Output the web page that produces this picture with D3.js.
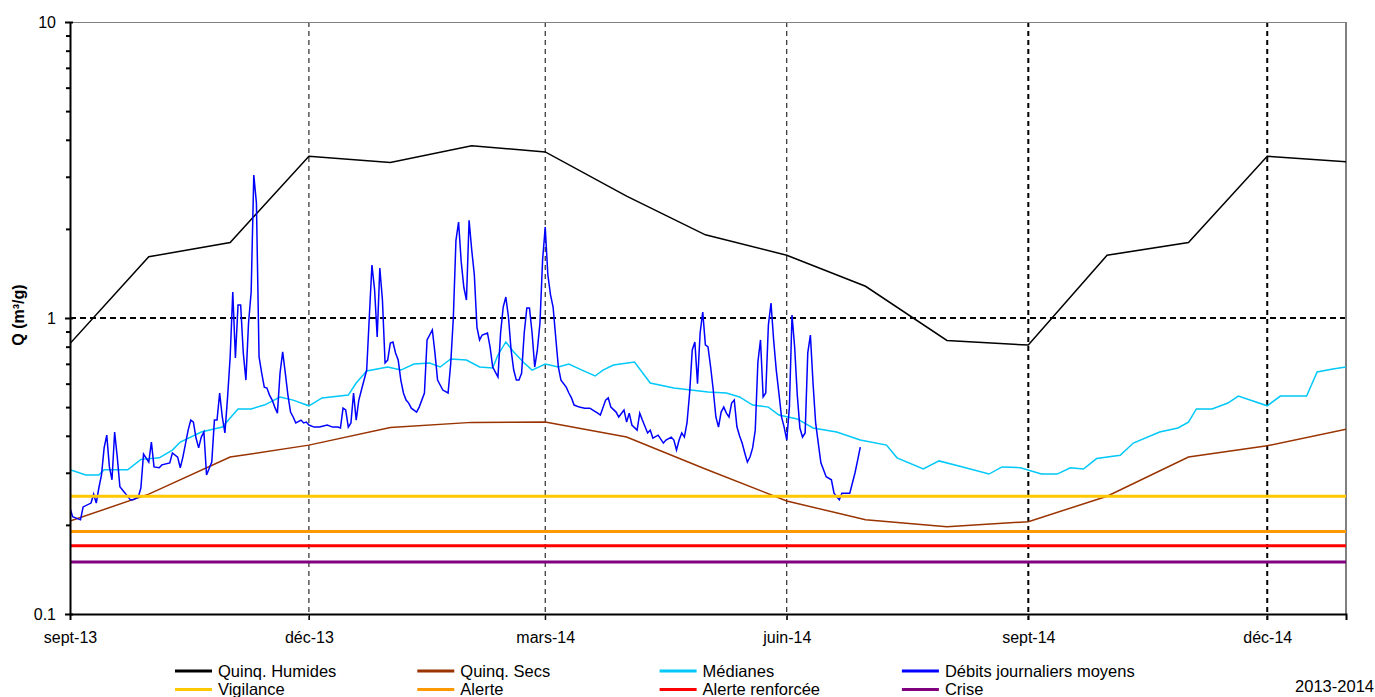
<!DOCTYPE html>
<html>
<head>
<meta charset="utf-8">
<script src="https://cdn.jsdelivr.net/npm/d3@7"></script>
<style>
  body { margin: 0; background: #fff; }
  svg { display: block; font-family: "Liberation Sans", Arial, sans-serif; }
</style>
</head>
<body>
<svg id="chart"></svg>
<script>
// ---- data ----
const startDate = new Date(Date.UTC(2013, 8, 1));

// monthly reference curves (first day of each month, sept-13 -> janv-15)
const months = ['2013-09-01', '2013-10-01', '2013-11-01', '2013-12-01', '2014-01-01', '2014-02-01',
    '2014-03-01', '2014-04-01', '2014-05-01', '2014-06-01', '2014-07-01', '2014-08-01',
    '2014-09-01', '2014-10-01', '2014-11-01', '2014-12-01', '2015-01-01'];
const quinqHumides = [0.82, 1.61, 1.80, 3.52, 3.35, 3.82, 3.64, 2.58, 1.91, 1.63, 1.28, 0.84,
    0.81, 1.63, 1.80, 3.52, 3.37];
const quinqSecs = [0.206, 0.254, 0.339, 0.372, 0.427, 0.444, 0.445, 0.396, 0.309, 0.241, 0.208, 0.197,
    0.205, 0.250, 0.339, 0.370, 0.423];

// medians (day offset from 1 sept 2013)
const medDays = [0, 6, 11, 13, 22, 27, 34, 39, 42, 50, 58, 64, 69, 74, 80, 85, 91, 96, 106, 109,
    113, 121, 126, 131, 137, 141, 145, 151, 156, 161, 163, 166, 169, 173, 176, 181, 186, 190, 195, 200,
    203, 207, 215, 221, 230, 243, 250, 255, 260, 266, 270, 277, 283, 292, 301, 311, 315, 325, 331, 340,
    350, 355, 362, 370, 376, 381, 386, 391, 400, 405, 415, 422, 426, 429, 435, 441, 445, 456, 461, 471,
    475, 481, 486];
const medianes = [0.307, 0.295, 0.295, 0.307, 0.307, 0.333, 0.337, 0.358, 0.381, 0.412, 0.428, 0.493, 0.493, 0.508, 0.541, 0.528, 0.505, 0.537, 0.549, 0.603,
    0.662, 0.683, 0.667, 0.699, 0.705, 0.683, 0.727, 0.721, 0.683, 0.678, 0.750, 0.830, 0.768, 0.705, 0.667, 0.699, 0.683, 0.699, 0.667, 0.637,
    0.667, 0.694, 0.710, 0.603, 0.580, 0.562, 0.558, 0.541, 0.508, 0.500, 0.470, 0.456, 0.425, 0.412, 0.387, 0.372, 0.337, 0.309, 0.329, 0.314,
    0.297, 0.314, 0.312, 0.297, 0.297, 0.312, 0.309, 0.335, 0.344, 0.378, 0.412, 0.425, 0.445, 0.493, 0.493, 0.516, 0.545, 0.505, 0.545, 0.545,
    0.657, 0.672, 0.683];

// daily mean flows [day offset, m3/s]
const debits = [
    [0,.228],[1,.213],[4,.208],[5,.230],[8,.237],[9,.254],[10,.237],[11,.267],[12,.295],[13,.364],
    [14,.402],[15,.314],[16,.284],[17,.412],[18,.339],[19,.269],[21,.256],[23,.243],[24,.243],[26,.248],
    [27,.267],[28,.347],[30,.326],[31,.381],[32,.314],[34,.312],[35,.319],[38,.324],[39,.350],[41,.339],
    [42,.312],[43,.339],[45,.418],[46,.452],[47,.445],[48,.393],[49,.364],[50,.396],[51,.412],[52,.295],
    [54,.326],[55,.452],[56,.452],[57,.558],[58,.463],[59,.409],[60,.537],[61,.738],[62,1.224],[63,.733],
    [64,1.106],[65,1.106],[66,.762],[67,.617],[68,.962],[69,1.224],[70,3.04],[71,2.45],[72,.74],[73,.652],
    [74,.584],[75,.58],[76,.549],[77,.528],[78,.500],[79,.477],[80,.652],[81,.768],[82,.652],[83,.549],
    [84,.481],[85,.463],[86,.442],[88,.452],[89,.442],[90,.445],[91,.435],[93,.428],[95,.428],[98,.435],
    [100,.428],[102,.428],[103,.425],[104,.496],[105,.489],[106,.428],[107,.442],[108,.558],[109,.452],[110,.528],
    [111,.571],[113,.667],[114,1.008],[115,1.51],[116,1.25],[117,.863],[118,1.475],[119,1.15],[120,.705],[121,.721],
    [122,.823],[123,.830],[124,.762],[125,.721],[126,.617],[127,.558],[128,.528],[129,.516],[130,.496],[132,.481],
    [133,.500],[135,.558],[136,.843],[138,.911],[139,.762],[140,.617],[142,.571],[144,.558],[145,.70],[146,1.0],
    [147,1.83],[148,2.11],[149,1.55],[150,1.27],[151,1.15],[152,2.14],[153,1.70],[154,1.40],[155,.93],[156,.843],
    [157,.876],[159,.89],[160,.798],[161,.683],[163,.632],[164,.89],[165,1.089],[166,1.177],[167,1.008],[168,.78],
    [169,.667],[170,.617],[171,.617],[172,.65],[173,.89],[174,1.081],[175,1.081],[176,.89],[177,.683],[178,.78],
    [179,.962],[180,1.57],[181,2.03],[182,1.4],[183,1.2],[184,1.089],[185,.86],[186,.683],[187,.617],[189,.584],
    [190,.558],[191,.537],[192,.508],[194,.5],[196,.496],[198,.496],[199,.489],[201,.477],[202,.47],[204,.528],
    [205,.537],[206,.5],[208,.481],[209,.463],[211,.489],[212,.445],[213,.477],[214,.435],[216,.418],[217,.477],
    [218,.452],[220,.409],[221,.418],[222,.393],[224,.402],[226,.378],[227,.387],[229,.396],[230,.387],[231,.358],
    [232,.387],[233,.409],[234,.396],[235,.442],[236,.558],[237,.78],[238,.83],[239,.60],[240,.89],[241,1.048],
    [242,.811],[243,.798],[244,.683],[245,.571],[246,.463],[247,.428],[248,.481],[249,.5],[250,.477],[251,.463],
    [252,.516],[253,.528],[254,.43],[255,.40],[256,.378],[257,.35],[258,.326],[259,.339],[260,.364],[261,.418],
    [262,.71],[263,.843],[264,.541],[265,.558],[266,.947],[267,1.124],[268,.843],[269,.667],[270,.558],[271,.463],
    [272,.428],[273,.387],[274,.5],[275,1.024],[276,.798],[277,.55],[278,.425],[279,.396],[280,.409],[281,.762],
    [282,.876],[283,.603],[284,.442],[285,.378],[286,.324],[287,.307],[288,.291],[290,.284],[291,.256],[293,.243],
    [294,.256],[296,.256],[297,.256],[298,.277],[299,.3],[300,.331],[301,.366]
];

// alert thresholds
const seuilNames = ['Vigilance', 'Alerte', 'Alerte renforcée', 'Crise'];
const seuilValues = [0.25, 0.19, 0.17, 0.15];

// axis ticks
const xTickDates = ['2013-09-01', '2013-12-01', '2014-03-01', '2014-06-01', '2014-09-01', '2014-12-01'];
const xTickLabels = ['sept-13', 'déc-13', 'mars-14', 'juin-14', 'sept-14', 'déc-14'];
const yTickValues = [0.1, 1, 10];
const yTickLabels = ['0.1', '1', '10'];
const yMinorTicks = [0.2, 0.3, 0.4, 0.5, 0.6, 0.7, 0.8, 0.9, 2, 3, 4, 5, 6, 7, 8, 9];

// ---- layout ----
const W = 1375, H = 697;
const plot = { left: 70, right: 1346, top: 22, bottom: 614 };
const parse = d3.utcParse('%Y-%m-%d');

const svg = d3.select('#chart').attr('width', W).attr('height', H);

const x = d3.scaleUtc()
    .domain([startDate, d3.utcDay.offset(startDate, 486)])
    .range([plot.left, plot.right]);
const y = d3.scaleLog()
    .domain([0.1, 10])
    .range([plot.bottom, plot.top]);

svg.append('clipPath').attr('id', 'clip')
    .append('rect')
    .attr('x', plot.left).attr('y', plot.top)
    .attr('width', plot.right - plot.left).attr('height', plot.bottom - plot.top);

// grid
const grid = svg.append('g');
xTickDates.slice(1).forEach((d, i) => {
    grid.append('line')
        .attr('x1', x(parse(d))).attr('x2', x(parse(d)))
        .attr('y1', plot.top).attr('y2', plot.bottom + 6)
        .attr('stroke', '#000')
        .attr('stroke-width', i < 3 ? 1 : 2)
        .attr('stroke-dasharray', '5,4');
});
grid.append('line')
    .attr('x1', plot.left).attr('x2', plot.right)
    .attr('y1', y(1)).attr('y2', y(1))
    .attr('stroke', '#000').attr('stroke-width', 2)
    .attr('stroke-dasharray', '6,4');

// frame (top / right)
svg.append('line').attr('x1', plot.left).attr('x2', plot.right)
    .attr('y1', plot.top + 0.5).attr('y2', plot.top + 0.5)
    .attr('stroke', '#808080').attr('stroke-width', 1);
svg.append('line').attr('x1', plot.right).attr('x2', plot.right)
    .attr('y1', plot.top).attr('y2', plot.bottom)
    .attr('stroke', '#808080').attr('stroke-width', 2);

// series
const series = svg.append('g').attr('clip-path', 'url(#clip)');
const line = d3.line().x(d => x(d[0])).y(d => y(d[1]));

const monthDates = months.map(parse);
const dayDate = d => d3.utcDay.offset(startDate, d);

series.append('path')
    .datum(monthDates.map((d, i) => [d, quinqHumides[i]]))
    .attr('d', line).attr('fill', 'none')
    .attr('stroke', '#000').attr('stroke-width', 1.5);

series.append('path')
    .datum(monthDates.map((d, i) => [d, quinqSecs[i]]))
    .attr('d', line).attr('fill', 'none')
    .attr('stroke', '#993300').attr('stroke-width', 1.5);

series.append('path')
    .datum(medDays.map((d, i) => [dayDate(d), medianes[i]]))
    .attr('d', line).attr('fill', 'none')
    .attr('stroke', '#00C8F8').attr('stroke-width', 1.5);

series.append('path')
    .datum(debits.map(d => [dayDate(d[0]), d[1]]))
    .attr('d', line).attr('fill', 'none')
    .attr('stroke', '#0000FF').attr('stroke-width', 1.5);

const seuilColors = ['#FFC800', '#FF9900', '#FF0000', '#800080'];
series.selectAll('.seuil')
    .data(seuilValues)
    .enter()
    .append('line')
    .attr('class', 'seuil')
    .attr('x1', plot.left).attr('x2', plot.right)
    .attr('y1', d => y(d)).attr('y2', d => y(d))
    .attr('stroke', (d, i) => seuilColors[i])
    .attr('stroke-width', 3);

// axes
const xAxis = d3.axisBottom(x)
    .tickValues(xTickDates.map(parse))
    .tickSize(6)
    .tickPadding(12)
    .tickFormat((d, i) => xTickLabels[i]);
const gx = svg.append('g')
    .attr('transform', `translate(0, ${plot.bottom})`)
    .call(xAxis);
gx.select('.domain').attr('stroke-width', 2);
gx.selectAll('.tick line').attr('stroke-width', 1);
gx.selectAll('.tick text')
    .style('font-size', '16px')
    .attr('fill', '#000');

const gyMinor = svg.append('g')
    .attr('transform', `translate(${plot.left}, 0)`)
    .call(d3.axisLeft(y).tickValues(yMinorTicks).tickSize(4).tickFormat(''));
gyMinor.select('.domain').remove();
gyMinor.selectAll('.tick line').attr('stroke-width', 2);

const gy = svg.append('g')
    .attr('transform', `translate(${plot.left}, 0)`)
    .call(d3.axisLeft(y).tickValues(yTickValues).tickSizeInner(5).tickSizeOuter(0)
        .tickPadding(9)
        .tickFormat((d, i) => yTickLabels[i]));
gy.select('.domain').attr('stroke-width', 2);
gy.selectAll('.tick line').attr('x2', 3).attr('x1', -5).attr('stroke-width', 2);
gy.selectAll('.tick text')
    .style('font-size', '16px')
    .attr('fill', '#000');

// y label
svg.append('text')
    .attr('transform', `translate(24, 315) rotate(-90)`)
    .attr('text-anchor', 'middle')
    .style('font-size', '16px')
    .style('font-weight', 'bold')
    .text('Q (m³/g)');

// legend
const legendItems = [
    { name: 'Quinq. Humides', color: '#000' },
    { name: 'Quinq. Secs', color: '#993300' },
    { name: 'Médianes', color: '#00C8F8' },
    { name: 'Débits journaliers moyens', color: '#0000FF' }
].concat(seuilNames.map((n, i) => ({ name: n, color: seuilColors[i] })));

const legend = svg.append('g');
legendItems.forEach((item, i) => {
    const tx = 218 + (i % 4) * 242.3;
    const ty = i < 4 ? 671 : 689.5;
    legend.append('line')
        .attr('x1', tx - 43).attr('x2', tx - 6)
        .attr('y1', ty).attr('y2', ty)
        .attr('stroke', item.color).attr('stroke-width', 3);
    legend.append('text')
        .attr('x', tx).attr('y', ty)
        .attr('dy', '0.35em')
        .style('font-size', '16.5px')
        .text(item.name);
});

svg.append('text')
    .attr('x', 1374).attr('y', 692)
    .attr('text-anchor', 'end')
    .style('font-size', '16.5px')
    .text('2013-2014');
</script>
</body>
</html>
